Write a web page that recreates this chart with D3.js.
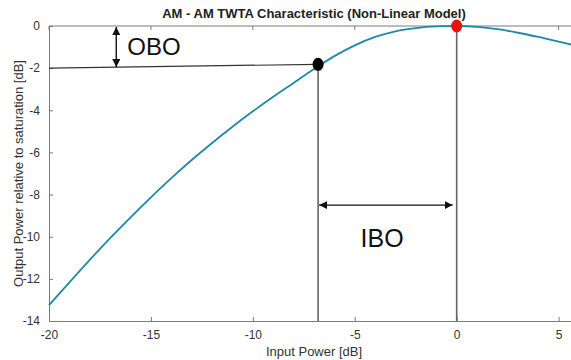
<!DOCTYPE html>
<html>
<head>
<meta charset="utf-8">
<script src="https://cdn.jsdelivr.net/npm/d3@7"></script>
<style>
  html, body { margin: 0; padding: 0; background: #fff; }
  svg { display: block; }
  text { font-family: "Liberation Sans", Arial, sans-serif; }
</style>
</head>
<body>
<div id="chart"></div>
<script>
// values
const inputDb = [-20, -19, -18, -17, -16, -15, -14, -13, -12, -11, -10, -9, -8, -7, -6, -5, -4, -3, -2, -1, 0, 1, 2, 3, 4, 5, 6];
const outputDb = [-13.25, -12.17, -11.1, -10.07, -9.08, -8.13, -7.22, -6.36, -5.55, -4.78, -4.05, -3.36, -2.7, -2.04, -1.43, -0.92, -0.52, -0.25, -0.1, -0.02, 0, -0.04, -0.15, -0.32, -0.52, -0.74, -0.97];
const xTicks = [-20, -15, -10, -5, 0, 5];
const yTicks = [0, -2, -4, -6, -8, -10, -12, -14];
const operatingPoint = [-6.8, -1.82];
const saturationPoint = [0, 0];
const oboLevel = -2;
const iboArrowLevel = -8.5;
const oboArrowX = -16.7;

const width = 571, height = 360;
const margin = { top: 26, right: -8, bottom: 39, left: 49 };

const svg = d3.select('#chart').append('svg')
  .attr('width', width)
  .attr('height', height);

const x = d3.scaleLinear().domain([-20, 6]).range([margin.left, width - margin.right]);
const y = d3.scaleLinear().domain([-14, 0]).range([height - margin.bottom, margin.top]);

const axisColor = '#7a7a7a';

// arrow marker
const defs = svg.append('defs');
defs.append('marker')
  .attr('id', 'arrow')
  .attr('viewBox', '0 0 10 10')
  .attr('refX', 10).attr('refY', 5)
  .attr('markerWidth', 8).attr('markerHeight', 8)
  .attr('markerUnits', 'userSpaceOnUse')
  .attr('orient', 'auto-start-reverse')
  .append('path')
  .attr('d', 'M0,0 L10,5 L0,10 Z')
  .attr('fill', '#111');

// box
svg.append('line')
  .attr('x1', x(-20)).attr('x2', x(6))
  .attr('y1', y(0)).attr('y2', y(0))
  .attr('stroke', axisColor).attr('stroke-width', 1);

const xAxis = svg.append('g')
  .attr('transform', `translate(0,${y(-14)})`)
  .call(d3.axisBottom(x).tickValues(xTicks).tickFormat(d => String(d))
    .tickSizeInner(-4).tickSizeOuter(0).tickPadding(9));
const yAxis = svg.append('g')
  .attr('transform', `translate(${x(-20)},0)`)
  .call(d3.axisLeft(y).tickValues(yTicks).tickFormat(d => String(d))
    .tickSizeInner(-4).tickSizeOuter(0).tickPadding(9));
[xAxis, yAxis].forEach(g => {
  g.select('.domain').attr('stroke', axisColor);
  g.selectAll('.tick line').attr('stroke', axisColor);
  g.selectAll('.tick text').attr('fill', '#333').attr('font-size', 12)
    .attr('font-family', '"Liberation Sans", Arial, sans-serif');
});
// top ticks
svg.append('g').selectAll('line')
  .data(xTicks)
  .enter().append('line')
  .attr('x1', d => x(d)).attr('x2', d => x(d))
  .attr('y1', y(0)).attr('y2', y(0) + 4)
  .attr('stroke', axisColor);

// title and labels
svg.append('text')
  .attr('x', (x(-20) + x(6)) / 2).attr('y', 18)
  .attr('text-anchor', 'middle')
  .attr('font-size', 13).attr('font-weight', 'bold').attr('fill', '#222')
  .text('AM - AM TWTA Characteristic (Non-Linear Model)');
svg.append('text')
  .attr('x', (x(-20) + x(6)) / 2).attr('y', 356)
  .attr('text-anchor', 'middle')
  .attr('font-size', 13).attr('fill', '#333')
  .text('Input Power [dB]');
svg.append('text')
  .attr('transform', `translate(23,${(y(0) + y(-14)) / 2}) rotate(-90)`)
  .attr('text-anchor', 'middle')
  .attr('font-size', 13).attr('fill', '#333')
  .text('Output Power relative to saturation [dB]');

// guide lines
svg.append('line')
  .attr('x1', x(-20)).attr('y1', y(oboLevel))
  .attr('x2', x(operatingPoint[0])).attr('y2', y(operatingPoint[1]))
  .attr('stroke', '#333').attr('stroke-width', 1.2);
svg.append('line')
  .attr('x1', x(operatingPoint[0])).attr('y1', y(operatingPoint[1]))
  .attr('x2', x(operatingPoint[0])).attr('y2', y(-14))
  .attr('stroke', '#333').attr('stroke-width', 1.2);
svg.append('line')
  .attr('x1', x(saturationPoint[0])).attr('y1', y(saturationPoint[1]))
  .attr('x2', x(saturationPoint[0])).attr('y2', y(-14))
  .attr('stroke', '#666').attr('stroke-width', 1.6);

// curve
const line = d3.line()
  .x((d, i) => x(inputDb[i]))
  .y(d => y(d))
  .curve(d3.curveMonotoneX);
svg.append('path')
  .datum(outputDb)
  .attr('d', line)
  .attr('fill', 'none')
  .attr('stroke', '#1f8aa6')
  .attr('stroke-width', 1.8);

// points
svg.append('ellipse')
  .attr('cx', x(operatingPoint[0])).attr('cy', y(operatingPoint[1]))
  .attr('rx', 5.5).attr('ry', 6.5).attr('fill', '#000');
svg.append('ellipse')
  .attr('cx', x(saturationPoint[0])).attr('cy', y(saturationPoint[1]))
  .attr('rx', 5.5).attr('ry', 6.5).attr('fill', '#ee1111');

// OBO arrow
svg.append('line')
  .attr('x1', x(oboArrowX)).attr('y1', y(0) + 1)
  .attr('x2', x(oboArrowX)).attr('y2', y(oboLevel + 0.05))
  .attr('stroke', '#111').attr('stroke-width', 1.4)
  .attr('marker-start', 'url(#arrow)').attr('marker-end', 'url(#arrow)');
svg.append('text')
  .attr('x', x(oboArrowX) + 11).attr('y', y(-1.38))
  .attr('font-family', 'Lato, "Open Sans", sans-serif')
  .attr('font-size', 24).attr('fill', '#111')
  .text('OBO');

// IBO arrow
svg.append('line')
  .attr('x1', x(operatingPoint[0]) + 1).attr('y1', y(iboArrowLevel))
  .attr('x2', x(saturationPoint[0]) - 4).attr('y2', y(iboArrowLevel))
  .attr('stroke', '#111').attr('stroke-width', 1.4)
  .attr('marker-start', 'url(#arrow)').attr('marker-end', 'url(#arrow)');
svg.append('text')
  .attr('x', x(-3.66)).attr('y', y(-10.49))
  .attr('text-anchor', 'middle')
  .attr('font-family', 'Lato, "Open Sans", sans-serif')
  .attr('font-size', 25).attr('fill', '#111')
  .text('IBO');
</script>
</body>
</html>
